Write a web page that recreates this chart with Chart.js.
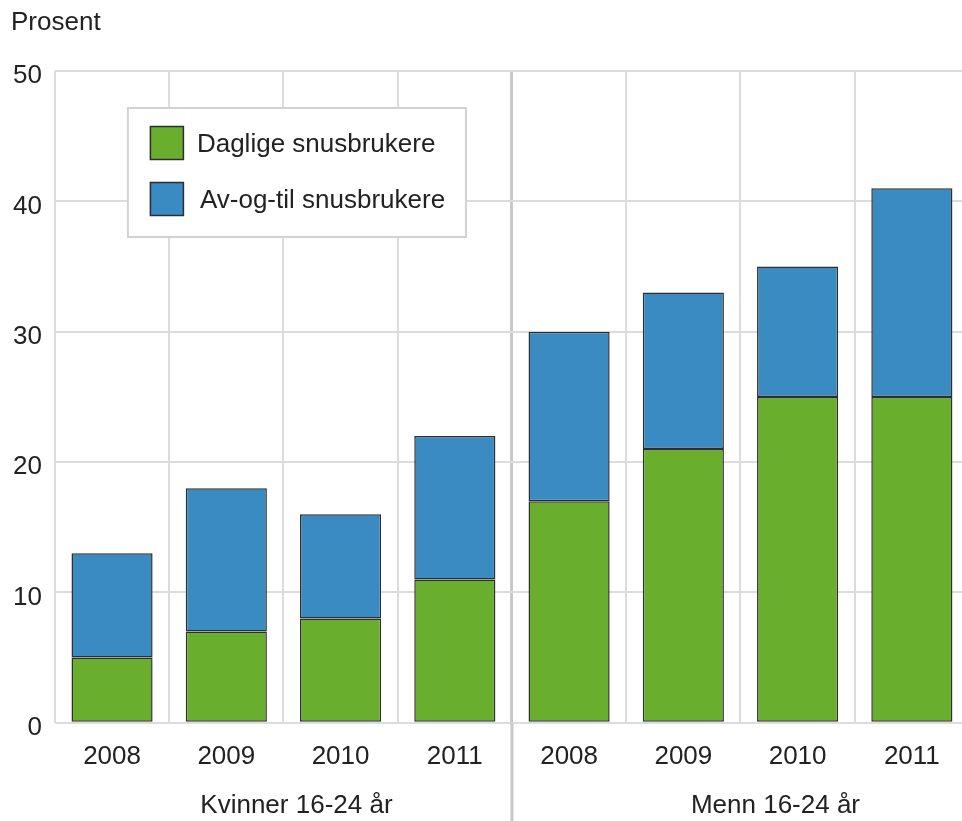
<!DOCTYPE html>
<html>
<head>
<meta charset="utf-8">
<script src="https://cdn.jsdelivr.net/npm/chart.js@4/dist/chart.umd.min.js"></script>
<style>
  html, body { margin: 0; padding: 0; background: #fff; overflow: hidden; }
  #wrap { width: 970px; height: 821px; position: relative; }
</style>
</head>
<body>
<div id="wrap"><canvas id="snus"></canvas></div>
<script>
    const years      = ['2008', '2009', '2010', '2011', '2008', '2009', '2010', '2011'];
    const groups     = ['Kvinner 16-24 år', 'Menn 16-24 år'];
    const daily      = [5, 7, 8, 11, 17, 21, 25, 25];
    const occasional = [8, 11, 8, 11, 13, 12, 10, 16];
    const yTicks     = [0, 10, 20, 30, 40, 50];

    const FONT = '"Liberation Sans", Arial, sans-serif';
    const TEXT = '#222';
    const GRID = '#dcdcdc';
    const EDGE = '#2e2e2e';

    // Y-axis title, group labels under the years and the divider between groups
    const decorations = {
        id: 'decorations',
        afterDraw(chart) {
            const { ctx, chartArea: a, scales: { x } } = chart;
            ctx.save();
            ctx.font = '26px ' + FONT;
            ctx.fillStyle = TEXT;
            ctx.textBaseline = 'middle';
            ctx.textAlign = 'left';
            ctx.fillText('Prosent', 11, 23);

            const half = x.getPixelForValue(3.5);
            ctx.strokeStyle = '#c8c8c8';
            ctx.lineWidth = 3;
            ctx.beginPath();
            ctx.moveTo(half, a.bottom);
            ctx.lineTo(half, chart.height);
            ctx.stroke();

            ctx.textAlign = 'center';
            const left  = (x.getPixelForValue(-0.5) + half) / 2 + 13;
            const right = (half + x.getPixelForValue(7.5)) / 2 + 35;
            ctx.fillText(groups[0], left, 806);
            ctx.fillText(groups[1], right, 806);
            ctx.restore();
        },
    };

    // Boxed legend sitting inside the plot
    const boxLegend = {
        id: 'boxLegend',
        afterDatasetsDraw(chart) {
            const { ctx, chartArea: a } = chart;
            const bx = a.left + 73, by = a.top + 37, bw = 338, bh = 129;
            ctx.save();
            ctx.fillStyle = '#fff';
            ctx.fillRect(bx, by, bw, bh);
            ctx.strokeStyle = '#d2d2d2';
            ctx.lineWidth = 2;
            ctx.strokeRect(bx, by, bw, bh);

            ctx.font = '26px ' + FONT;
            ctx.textBaseline = 'middle';
            ctx.textAlign = 'left';
            chart.data.datasets.forEach((ds, i) => {
                const sy = by + 18 + i * 56;
                ctx.fillStyle = ds.backgroundColor;
                ctx.fillRect(bx + 22, sy, 34, 34);
                ctx.strokeStyle = EDGE;
                ctx.lineWidth = 1.5;
                ctx.strokeRect(bx + 22.5, sy + 0.5, 33, 33);
                ctx.fillStyle = TEXT;
                ctx.fillText(ds.label, bx + 69 + i * 3, sy + 19);
            });
            ctx.restore();
        },
    };

    new Chart(document.getElementById('snus'), {
        type: 'bar',
        data: {
            labels: years,
            datasets: [
                {
                    label: 'Daglige snusbrukere',
                    data: daily,
                    backgroundColor: '#69ae2d',
                    borderColor: EDGE,
                    borderWidth: 1.5,
                    borderSkipped: false,
                },
                {
                    label: 'Av-og-til snusbrukere',
                    data: occasional,
                    backgroundColor: '#3a8bc2',
                    borderColor: EDGE,
                    borderWidth: 1.5,
                    borderSkipped: false,
                },
            ],
        },
        options: {
            responsive: true,
            maintainAspectRatio: false,
            animation: false,
            categoryPercentage: 1,
            barPercentage: 0.71,
            layout: { padding: { left: 0, top: 71, right: 1, bottom: 31 } },
            plugins: {
                legend: { display: false },
                tooltip: { enabled: false },
            },
            scales: {
                x: {
                    stacked: true,
                    grid: {
                        offset: true,
                        drawTicks: false,
                        color: ctx => ctx.index === 4 ? '#c8c8c8' : GRID,
                        lineWidth: ctx => ctx.index === 4 ? 3 : 2,
                    },
                    border: { display: false },
                    ticks: { color: TEXT, font: { family: FONT, size: 26 }, padding: 18 },
                },
                y: {
                    stacked: true,
                    min: 0,
                    max: 50,
                    afterBuildTicks: axis => { axis.ticks = yTicks.map(v => ({ value: v })); },
                    grid: { drawTicks: false, color: GRID, lineWidth: 2 },
                    border: { display: false },
                    ticks: { color: TEXT, font: { family: FONT, size: 26 }, padding: 13, labelOffset: 5 },
                },
            },
        },
        plugins: [boxLegend, decorations],
    });
</script>
</body>
</html>
